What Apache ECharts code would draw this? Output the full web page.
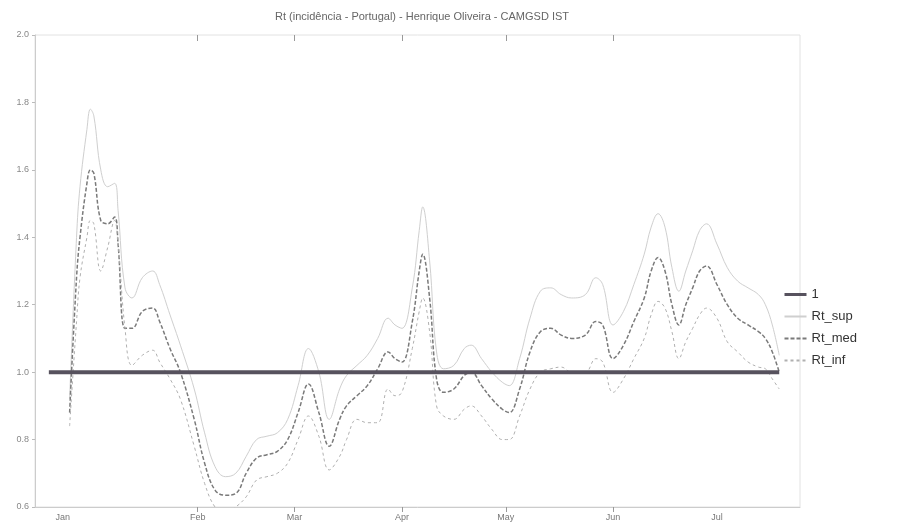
<!DOCTYPE html>
<html>
<head>
<meta charset="utf-8">
<script src="https://cdn.jsdelivr.net/npm/echarts@6/dist/echarts.min.js"></script>
<style>html,body{margin:0;padding:0;background:#fff;}#c{width:914px;height:530px;}</style>
</head>
<body>
<div id="c"></div>
<script>
// Day of year 2021 (0 = 1 Jan 2021; negative = Dec 2020)
const days = [-6,-4,-3,-1,0,1,3,5,7,8,10,12,15,18,20,23,26,30,33,36,39,42,45,48,51,54,57,60,63,66,69,72,74,77,80,83,86,88,90,93,95,96,98,100,102,105,108,110,113,116,119,121,124,127,130,133,136,139,143,146,148,151,154,157,160,162,164,166,168,170,172,174,176,178,181,184,187,190,193,195,197,199];

const rtSup = [0.92,1.40,1.55,1.72,1.78,1.76,1.60,1.55,1.56,1.48,1.25,1.22,1.28,1.30,1.26,1.17,1.08,0.95,0.82,0.72,0.69,0.70,0.75,0.80,0.81,0.82,0.86,0.96,1.07,1.00,0.86,0.95,0.99,1.02,1.05,1.10,1.16,1.14,1.13,1.25,1.42,1.49,1.33,1.06,1.01,1.02,1.07,1.08,1.04,1.00,0.97,0.96,1.04,1.16,1.24,1.25,1.23,1.22,1.23,1.28,1.26,1.14,1.18,1.26,1.35,1.43,1.47,1.43,1.31,1.24,1.30,1.36,1.42,1.44,1.38,1.31,1.27,1.25,1.23,1.20,1.14,1.05];

const rtMed = [0.88,1.28,1.40,1.56,1.60,1.59,1.45,1.44,1.46,1.38,1.13,1.13,1.18,1.19,1.15,1.07,1.00,0.86,0.73,0.65,0.635,0.64,0.70,0.745,0.755,0.765,0.80,0.88,0.965,0.88,0.78,0.86,0.90,0.93,0.96,1.01,1.06,1.04,1.03,1.15,1.30,1.35,1.22,0.98,0.94,0.95,0.99,1.00,0.96,0.92,0.89,0.88,0.95,1.06,1.12,1.13,1.11,1.10,1.11,1.15,1.14,1.04,1.08,1.15,1.22,1.30,1.34,1.30,1.20,1.14,1.20,1.25,1.30,1.315,1.26,1.20,1.16,1.14,1.12,1.10,1.06,1.00];

const rtInf = [0.84,1.15,1.28,1.40,1.45,1.44,1.30,1.37,1.45,1.38,1.13,1.02,1.05,1.065,1.03,0.98,0.92,0.78,0.67,0.60,0.58,0.60,0.63,0.68,0.69,0.70,0.73,0.80,0.87,0.81,0.71,0.75,0.80,0.86,0.85,0.85,0.95,0.93,0.94,1.07,1.18,1.22,1.12,0.90,0.87,0.86,0.89,0.90,0.87,0.83,0.80,0.80,0.87,0.95,1.00,1.01,1.015,1.00,1.00,1.04,1.03,0.94,0.98,1.04,1.10,1.17,1.21,1.19,1.12,1.04,1.09,1.13,1.17,1.19,1.16,1.09,1.06,1.03,1.015,1.01,0.98,0.95];

// Reference line "1"
const refDays = [-12, 199];
const refValues = [1, 1];

// X-axis labels and ticks
const labelDays = [-8, 31, 59, 90, 120, 151, 181];
const labelNames = ['Jan', 'Feb', 'Mar', 'Apr', 'May', 'Jun', 'Jul'];
const tickDays = [31, 59, 90, 120, 151];

const title = 'Rt (incidência - Portugal) - Henrique Oliveira - CAMGSD IST';

const pair = (xs, ys) => xs.map((d, i) => [d, ys[i]]);
const FONT = 'Liberation Sans, Arial, sans-serif';

const chart = echarts.init(document.getElementById('c'), null, {renderer: 'canvas'});
chart.setOption({
  animation: false,
  backgroundColor: '#fff',
  title: {
    text: title, left: 417, top: 6, textAlign: 'center',
    textStyle: {fontFamily: FONT, fontSize: 11, fontWeight: 'normal', color: '#666'}
  },
  grid: {left: 35, right: 114, top: 35, bottom: 23, show: true, borderColor: '#e2e2e2', borderWidth: 1},
  legend: {
    orient: 'vertical', left: 778, top: 283, itemGap: 9, itemWidth: 22, itemHeight: 14,
    itemStyle: {opacity: 0},
    textStyle: {fontFamily: FONT, fontSize: 13, color: '#333'},
    data: [{name: '1', lineStyle: {width: 3}}, 'Rt_sup', 'Rt_med', 'Rt_inf']
  },
  xAxis: [{
    type: 'value', min: -16, max: 205,
    axisLine: {show: true, onZero: false, lineStyle: {color: '#ccc'}},
    splitLine: {show: false},
    axisTick: {show: true, customValues: tickDays, length: 5, lineStyle: {color: '#999'}},
    axisLabel: {
      customValues: labelDays, fontFamily: FONT, fontSize: 9, color: '#777', margin: 6,
      formatter: v => labelNames[labelDays.indexOf(v)] || ''
    }
  }, {
    type: 'value', min: -16, max: 205, position: 'top',
    axisLine: {show: false}, splitLine: {show: false},
    axisTick: {show: true, inside: true, customValues: tickDays, length: 6, lineStyle: {color: '#999'}},
    axisLabel: {show: false}
  }],
  yAxis: {
    type: 'value', min: 0.6, max: 2.0, interval: 0.2,
    axisLine: {show: true, onZero: false, lineStyle: {color: '#ccc'}},
    splitLine: {show: false},
    axisTick: {show: true, length: 3, lineStyle: {color: '#bbb'}},
    axisLabel: {fontFamily: FONT, fontSize: 9, color: '#888', margin: 6, formatter: v => v.toFixed(1)}
  },
  series: [
    {name: '1', type: 'line', data: pair(refDays, refValues), symbol: 'none',
     lineStyle: {color: '#57525e', width: 4}, itemStyle: {color: '#57525e'}, z: 5},
    {name: 'Rt_sup', type: 'line', data: pair(days, rtSup), symbol: 'none', smooth: 0.4,
     lineStyle: {color: '#cfcfcf', width: 1}, itemStyle: {color: '#cfcfcf'}},
    {name: 'Rt_med', type: 'line', data: pair(days, rtMed), symbol: 'none', smooth: 0.4,
     lineStyle: {color: '#7a7a7a', width: 1.5, type: [4, 2]}, itemStyle: {color: '#7a7a7a'}},
    {name: 'Rt_inf', type: 'line', data: pair(days, rtInf), symbol: 'none', smooth: 0.4,
     lineStyle: {color: '#b0b0b0', width: 1, type: [3, 3]}, itemStyle: {color: '#b0b0b0'}}
  ]
});
</script>
</body>
</html>
